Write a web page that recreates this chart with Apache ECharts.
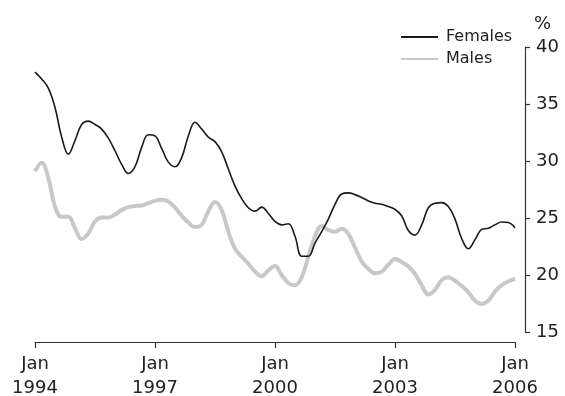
<!DOCTYPE html>
<html>
<head>
<meta charset="utf-8">
<script src="https://cdn.jsdelivr.net/npm/echarts@6/dist/echarts.min.js"></script>
<style>
  html, body { margin: 0; padding: 0; background: #fff; }
  #chart { width: 565px; height: 396px; }
</style>
</head>
<body>
<div id="chart"></div>
<script>
// Months counted from Jan 1994, sampled every two months up to Jan 2006
var months = [0,2,4,6,8,10,12,14,16,18,20,22,24,26,28,30,32,34,36,38,40,42,44,46,48,50,52,54,56,58,60,62,64,66,68,70,72,74,76,78,80,82,84,86,88,90,92,94,96,98,100,102,104,106,108,110,112,114,116,118,120,122,124,126,128,130,132,134,136,138,140,142,144];

// Rates (%), trend series
var females = [37.8,37.2,36.4,34.7,32.1,30.6,31.8,33.2,33.5,33.2,32.8,32.0,30.9,29.7,28.9,29.5,31.2,32.3,32.2,31.1,29.9,29.5,30.3,32.2,33.4,32.8,32.1,31.7,30.8,29.3,27.8,26.7,25.9,25.6,25.95,25.4,24.7,24.4,24.5,23.4,21.65,21.65,22.8,23.8,24.9,26.2,27.1,27.2,27.05,26.8,26.5,26.3,26.2,26.0,25.75,25.2,23.9,23.5,24.4,25.9,26.3,26.35,26.0,24.9,23.2,22.3,23.1,24.0,24.1,24.4,24.65,24.6,24.15];
var males = [29.1,29.85,28.5,26.0,25.1,25.1,24.1,23.15,23.65,24.7,25.05,25.05,25.3,25.7,25.95,26.05,26.1,26.3,26.5,26.6,26.45,25.9,25.2,24.6,24.2,24.4,25.6,26.4,25.7,23.8,22.3,21.6,21.0,20.3,19.9,20.4,20.8,20.0,19.3,19.1,19.8,21.6,23.4,24.3,23.95,23.8,24.05,23.6,22.4,21.2,20.55,20.15,20.3,20.9,21.4,21.15,20.75,20.1,19.1,18.3,18.7,19.55,19.8,19.5,19.05,18.5,17.75,17.45,17.75,18.55,19.1,19.45,19.65];

// Axis tick labels
var startYear = 1994;
var tickMonths = [0, 36, 72, 108, 144];
var yTicks = [15, 20, 25, 30, 35, 40];

function pairs(xs, ys) {
  return xs.map(function (x, i) { return [x, ys[i]]; });
}

var FONT = 'DejaVu Sans';
var INK = '#222';
var AXIS = '#333';

var chart = echarts.init(document.getElementById('chart'), null, { renderer: 'canvas' });
chart.setOption({
  animation: false,
  backgroundColor: '#fff',
  textStyle: { fontFamily: FONT, color: INK },
  legend: {
    orient: 'vertical',
    left: 400,
    top: 29,
    padding: 0,
    itemWidth: 37,
    itemHeight: 14,
    itemGap: 6,
    itemStyle: { opacity: 0 },
    textStyle: { fontFamily: FONT, fontSize: 16, color: INK, padding: [0, 0, 0, 3] },
    data: ['Females', 'Males']
  },
  grid: { left: 35, right: 50, top: 47, bottom: 64, containLabel: false, outerBoundsMode: 'none' },
  xAxis: {
    type: 'value',
    min: tickMonths[0],
    max: tickMonths[tickMonths.length - 1],
    interval: 36,
    offset: 10,
    splitLine: { show: false },
    axisLine: { onZero: false, lineStyle: { color: AXIS, width: 1.2 } },
    axisTick: { inside: false, length: 6, lineStyle: { color: AXIS, width: 1.2 } },
    axisLabel: {
      margin: 11,
      fontFamily: FONT,
      fontSize: 18,
      lineHeight: 23.5,
      color: INK,
      formatter: function (v) {
        if (tickMonths.indexOf(v) < 0) return '';
        return 'Jan\n' + (startYear + v / 12);
      }
    }
  },
  yAxis: {
    type: 'value',
    position: 'right',
    min: yTicks[0],
    max: yTicks[yTicks.length - 1],
    interval: 5,
    offset: 10,
    name: '%',
    nameLocation: 'end',
    nameGap: 14,
    nameTextStyle: { fontFamily: FONT, fontSize: 18, color: INK, align: 'left', padding: [0, 0, 0, 9] },
    splitLine: { show: false },
    axisLine: { show: true, onZero: false, lineStyle: { color: AXIS, width: 1.2 } },
    axisTick: { show: true, inside: false, length: 5, lineStyle: { color: AXIS, width: 1.2 } },
    axisLabel: { margin: 11, fontFamily: FONT, fontSize: 18, color: INK }
  },
  series: [
    {
      name: 'Females',
      type: 'line',
      data: pairs(months, females),
      smooth: 0.4,
      symbol: 'none',
      lineStyle: { color: '#1a1a1a', width: 1.6 },
      itemStyle: { color: '#1a1a1a' },
      z: 3
    },
    {
      name: 'Males',
      type: 'line',
      data: pairs(months, males),
      smooth: 0.4,
      symbol: 'none',
      lineStyle: { color: '#c8c8c8', width: 4 },
      itemStyle: { color: '#c8c8c8' },
      z: 2
    }
  ]
});
</script>
</body>
</html>
